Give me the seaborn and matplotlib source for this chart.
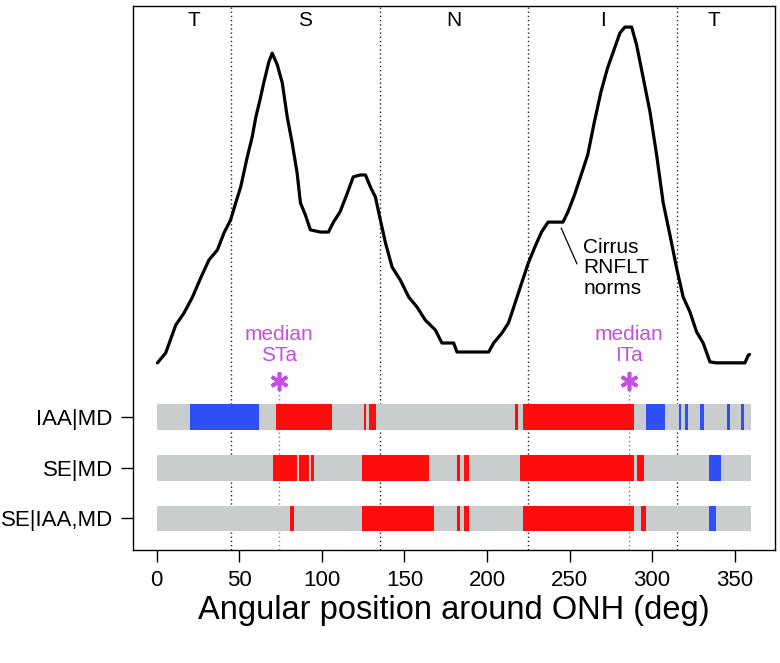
import matplotlib
matplotlib.use("Agg")
import matplotlib.pyplot as plt
import seaborn as sns
import pandas as pd

# ---- data ----
angle = [0.4, 5.4, 11.5, 16.5, 21.6, 26.6, 31.6, 36.7, 40.7, 44.7, 47.8, 50.8, 54.8,
         57.8, 60.0, 62.5, 64.9, 67.9, 69.9, 73, 76, 79, 82, 85, 87, 90, 93, 99, 104,
         107, 111, 115, 119, 123.3, 126.4, 129.4, 132.4, 135.4, 138.5, 142.5, 147.5,
         152.6, 157.6, 162.6, 168.7, 172.7, 177.7, 179.8, 181.8, 191.9, 201, 204, 209,
         213, 217, 221, 225, 229, 233, 237, 242, 246, 249, 253, 257, 261, 265, 269, 273,
         277.5, 280.5, 283.5, 287.6, 290.6, 294.6, 298.7, 302.7, 306.7, 310.8, 314.8,
         318.8, 322.9, 326.9, 330.9, 335, 339, 356.2, 358.2, 359]
rnflt = [52.3, 55.5, 64.5, 68.4, 73.5, 79.7, 85.5, 88.7, 94.2, 98.4, 103.9, 109.0, 118.7,
         125.2, 131.6, 137.1, 142.9, 149.4, 152.2, 148.4, 142.6, 131.6, 123.2, 113.5, 103.9,
         100.0, 95.2, 94.5, 94.5, 97.7, 101.0, 106.5, 112.3, 112.9, 112.9, 109.0, 105.8,
         98.4, 91.0, 83.2, 79.0, 73.5, 70.3, 66.1, 62.9, 58.7, 58.7, 58.7, 55.8, 55.8,
         55.8, 58.7, 61.9, 65.2, 71.6, 78.1, 84.5, 89.7, 94.5, 97.7, 97.7, 97.7, 101.0,
         106.5, 112.9, 119.4, 130.0, 139.7, 147.4, 154.2, 158.7, 160.6, 160.6, 154.8,
         144.2, 133.2, 119.4, 103.9, 93.5, 82.9, 73.5, 68.7, 62.3, 58.7, 52.6, 52.3, 52.3,
         54.8, 55.0]

row_labels = ["IAA|MD", "SE|MD", "SE|IAA,MD"]
red_segments = [
    [(72, 106), (125.5, 127), (128.5, 133), (217, 219), (221.5, 289)],
    [(70.5, 85), (86, 92), (93.3, 95), (124.3, 165), (182, 183.6), (186.2, 189.2),
     (220, 289.2), (290.6, 295)],
    [(80.4, 83.4), (124.3, 168), (182, 183.6), (186.2, 189.2), (221.5, 289.2),
     (293.5, 296.5)],
]
blue_segments = [
    [(20, 62), (296.5, 308), (316, 317.5), (320, 321.8), (328.7, 331.7),
     (345.6, 347.2), (354, 355.7)],
    [(334.3, 341.6)],
    [(334.3, 338.8)],
]
sector_labels = ["T", "S", "N", "I", "T"]
sector_centers = [22.5, 90, 180, 270, 337.5]
sector_bounds = [45, 135, 225, 315]
median_labels = ["median\nSTa", "median\nITa"]
median_angles = [74, 286]
xticks = [0, 50, 100, 150, 200, 250, 300, 350]

# ---- styling / layout ----
GRAY = "#c9cdcd"
RED = "#ff0d0d"
BLUE = "#2f50f5"
MAG = "#c350e0"

sns.set_style("white")
plt.rcParams["font.family"] = ["Liberation Sans", "DejaVu Sans"]
plt.rcParams["text.color"] = "black"
plt.rcParams["axes.labelcolor"] = "black"
plt.rcParams["xtick.color"] = "black"
plt.rcParams["ytick.color"] = "black"

fig = plt.figure(figsize=(7.8, 6.63), dpi=100)
ax = fig.add_axes([133 / 780, 1 - 550 / 663, (775 - 133) / 780, (550 - 6) / 663])
ylo, yhi = -8.06, 167.4
ax.set_xlim(-14.4, 374.4)
ax.set_ylim(ylo, yhi)

bar_y = [34.8, 18.45, 2.1]
bar_h = 8.2

for b in sector_bounds:
    ax.plot([b, b], [ylo, yhi], color="#222222", ls=(0, (1, 2)), lw=1.0, zorder=1)
for m in median_angles:
    ax.plot([m, m], [ylo, 44], color=MAG, ls=(0, (1, 2)), lw=1.0, zorder=1)

for yy, reds, blues in zip(bar_y, red_segments, blue_segments):
    ax.barh(yy, 360, left=0, height=bar_h, color=GRAY, linewidth=0, zorder=2)
    for s, e in reds:
        ax.barh(yy, e - s, left=s, height=bar_h, color=RED, linewidth=0, zorder=2.5)
    for s, e in blues:
        ax.barh(yy, e - s, left=s, height=bar_h, color=BLUE, linewidth=0, zorder=2.5)

df = pd.DataFrame({"angle": angle, "rnflt": rnflt})
sns.lineplot(data=df, x="angle", y="rnflt", color="black", lw=2.3, ax=ax, zorder=3,
             sort=False)

for lab, xc in zip(sector_labels, sector_centers):
    ax.text(xc, 162.6, lab, ha="center", va="center", fontsize=15)

for lab, m in zip(median_labels, median_angles):
    ax.text(m, 58.0, lab, ha="center", va="center", fontsize=15, color=MAG,
            linespacing=1.1)
    ax.plot([m], [46.5], marker=(6, 2, 0), ms=13, mew=2.6, color=MAG, zorder=4)

ax.text(258.2, 82.9, "Cirrus\nRNFLT\nnorms", ha="left", va="center", fontsize=15,
        linespacing=1.1)
ax.plot([244.9, 254.5], [95.8, 84.2], color="black", lw=0.9)

ax.set_xticks(xticks)
ax.set_yticks(bar_y)
ax.set_yticklabels(row_labels)
ax.tick_params(axis="both", bottom=True, left=True, length=8.6, width=1.0,
               direction="out", pad=6, labelsize=16, color="black")
ax.set_xlabel("Angular position around ONH (deg)", fontsize=23.5, labelpad=3)
ax.set_ylabel("")
for sp in ax.spines.values():
    sp.set_visible(True)
    sp.set_color("black")
    sp.set_linewidth(1.0)

fig.savefig("out.png", dpi=100)
